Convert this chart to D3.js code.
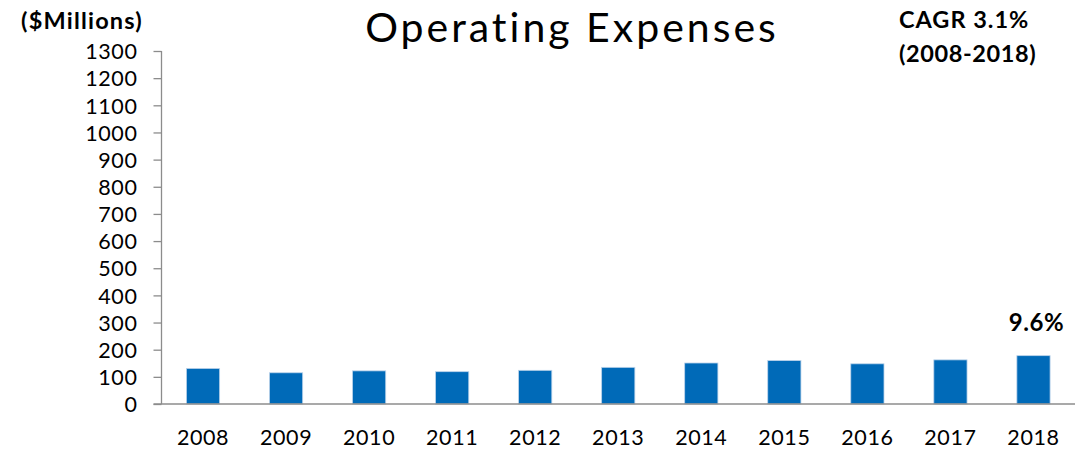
<!DOCTYPE html>
<html>
<head>
<meta charset="utf-8">
<script src="https://cdn.jsdelivr.net/npm/d3@7"></script>
<style>
  html, body { margin: 0; padding: 0; background: #fff; }
  svg { display: block; }
  text { font-family: Lato, "Liberation Sans", Arial, sans-serif; fill: #000; font-variant-ligatures: none; }
</style>
</head>
<body>
<svg id="chart" width="1089" height="454"></svg>
<script>
// Operating expenses by year, $ millions
const years = ["2008", "2009", "2010", "2011", "2012", "2013", "2014", "2015", "2016", "2017", "2018"];
const expenses = [131, 115, 122, 119, 124, 135, 151, 160, 148, 162.5, 178];
const yTicks = [0, 100, 200, 300, 400, 500, 600, 700, 800, 900, 1000, 1100, 1200, 1300];
const lastGrowthLabel = "9.6%";

const svg = d3.select("#chart");
const margin = { left: 161.5, right: 14, top: 51, bottom: 50 };
const W = 1089, H = 454;
const FONT = "Lato, 'Liberation Sans', Arial, sans-serif";

const x = d3.scaleBand()
  .domain(years)
  .range([margin.left, W - margin.right])
  .paddingInner(0.6)
  .paddingOuter(0.3);

const y = d3.scaleLinear()
  .domain([0, 1300])
  .range([H - margin.bottom, margin.top]);

const axisColor = "#8c8c8c";

// y axis
const yAxis = svg.append("g")
  .attr("transform", `translate(${margin.left},0)`)
  .call(d3.axisLeft(y).tickValues(yTicks).tickSize(8).tickPadding(16).tickFormat(d3.format("d")));
yAxis.selectAll("path, line").attr("stroke", axisColor).attr("stroke-width", 1.3);
yAxis.select(".domain").attr("d", `M0,${y(1300)}V${y(0)}`);
yAxis.selectAll("text")
  .style("font-family", FONT)
  .attr("font-size", 21.5)
  .attr("letter-spacing", 0.6)
  .attr("fill", "#000")
  .attr("dy", "0.36em");

// bars
svg.append("g").selectAll("rect")
  .data(years.map((yr, i) => ({ yr, v: expenses[i] })))
  .join("rect")
  .attr("x", d => x(d.yr))
  .attr("width", x.bandwidth())
  .attr("y", d => y(d.v))
  .attr("height", d => y(0) - y(d.v))
  .attr("fill", "#006ab8")
  .attr("stroke", "#bcd3ea")
  .attr("stroke-width", 0.8);

// x axis
const xAxis = svg.append("g")
  .attr("transform", `translate(0,${y(0)})`)
  .call(d3.axisBottom(x).tickSize(0).tickPadding(26));
xAxis.select(".domain")
  .attr("stroke", axisColor).attr("stroke-width", 1.3)
  .attr("d", `M${margin.left - 8},0H${W - margin.right}`);
xAxis.selectAll("text")
  .style("font-family", FONT)
  .attr("font-size", 21.5)
  .attr("letter-spacing", 0.6)
  .attr("fill", "#000");

// growth label above the last bar
const lastYear = years[years.length - 1];
svg.append("text")
  .attr("x", x(lastYear) + x.bandwidth() / 2 + 3)
  .attr("y", y(expenses[expenses.length - 1]) - 25)
  .attr("text-anchor", "middle")
  .attr("font-size", 24)
  .attr("letter-spacing", 0.5)
  .attr("font-weight", "bold")
  .text(lastGrowthLabel);

// titles and notes
svg.append("text")
  .attr("x", 572).attr("y", 41.5)
  .attr("text-anchor", "middle")
  .attr("font-size", 41)
  .attr("letter-spacing", 3)
  .text("Operating Expenses");

svg.append("text")
  .attr("x", 21).attr("y", 29)
  .attr("font-size", 23.5)
  .attr("letter-spacing", 1.2)
  .attr("font-weight", "bold")
  .text("($Millions)");

svg.append("text")
  .attr("x", 899).attr("y", 28)
  .attr("font-size", 23.5)
  .attr("letter-spacing", 1)
  .attr("font-weight", "bold")
  .text("CAGR 3.1%");

svg.append("text")
  .attr("x", 899).attr("y", 62)
  .attr("font-size", 23.5)
  .attr("letter-spacing", 0.6)
  .attr("font-weight", "bold")
  .text("(2008-2018)");
</script>
</body>
</html>
